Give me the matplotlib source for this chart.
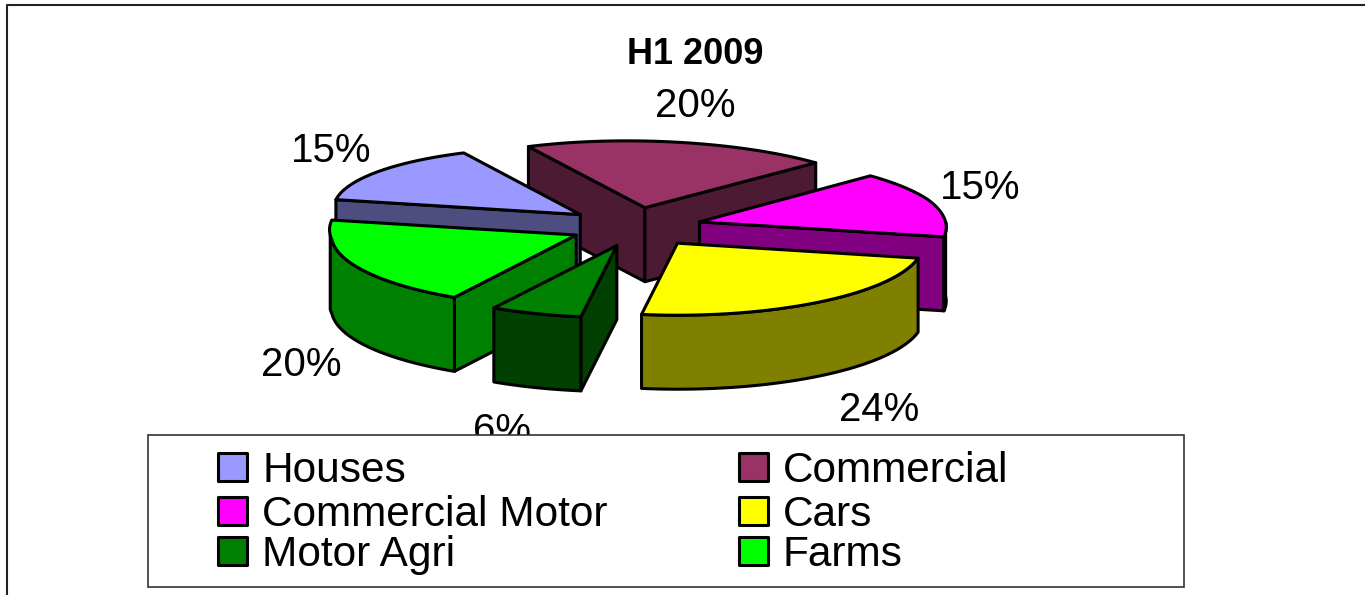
import numpy as np
import matplotlib
matplotlib.use('Agg')
import matplotlib.pyplot as plt
from matplotlib.patches import Polygon, Rectangle

plt.rcParams['font.family'] = ['Liberation Sans', 'DejaVu Sans']

# data, in the order the pie goes round (clockwise)
categories = ['Houses', 'Commercial', 'Commercial Motor', 'Cars', 'Motor Agri', 'Farms']
shares = [15, 20, 15, 24, 6, 20]
colors = ['#9999FF', '#993366', '#FF00FF', '#FFFF00', '#008000', '#00FF00']
title = 'H1 2009'

# pie geometry, in pixels
cx, cy = 639, 227
rx, ry = 246, 72
depth = 74
explode = 0.274
start = 168  # degrees, Houses starts here and the pie runs clockwise
lw = 2.2
skew = 0.25  # the far part of the pie leans left in the original
squeeze = 0.08  # and is a bit flatter

# label centres, same order as categories
label_xy = [(331, 151), (695, 106), (980, 188), (879, 410), (502, 431), (301, 365)]

# legend rows and columns
legend_rows = [467, 511, 551]
legend_cols = [218, 739]
legend_order = [[0, 1], [2, 3], [4, 5]]


def darker(color):
    r, g, b = matplotlib.colors.to_rgb(color)
    return (r / 2, g / 2, b / 2)


def view(x, y):
    x = x + skew * np.minimum(y - 240, 0)
    y = y + squeeze * np.maximum(200 - y, 0)
    return x, y


fig = plt.figure(figsize=(13.65, 5.95), dpi=100)
ax = fig.add_axes([0, 0, 1, 1])
ax.set_xlim(0, 1365)
ax.set_ylim(595, 0)
ax.axis('off')

# outer frame, only left and top show in the picture
ax.plot([7, 7, 1365], [595, 5, 5], color='#222222', lw=1.5, zorder=1)

# work out the angles from the shares
fracs = np.array(shares) / sum(shares)
ends = start - np.cumsum(fracs) * 360
starts = ends + fracs * 360

# back slices first so the front ones cover them
draw_order = [1, 2, 0, 3, 5, 4]
z = 2
for i in draw_order:
    a0, a1 = starts[i], ends[i]
    mid = (a0 + a1) / 2
    ox = cx + explode * rx * np.cos(np.radians(mid))
    oy = cy - explode * ry * np.sin(np.radians(mid))
    angs = np.linspace(a0, a1, 60)
    xs, ys = view(ox + rx * np.cos(np.radians(angs)), oy - ry * np.sin(np.radians(angs)))
    ox, oy = view(ox, oy)
    side = darker(colors[i])
    style = dict(edgecolor='black', lw=lw, joinstyle='round', zorder=z)

    # cut faces, only the ones turned to the viewer
    if np.cos(np.radians(a0)) < 0:
        face = [(ox, oy), (xs[0], ys[0]), (xs[0], ys[0] + depth), (ox, oy + depth)]
        ax.add_patch(Polygon(face, closed=True, facecolor=side, **style))
    if np.cos(np.radians(a1)) > 0:
        face = [(ox, oy), (xs[-1], ys[-1]), (xs[-1], ys[-1] + depth), (ox, oy + depth)]
        ax.add_patch(Polygon(face, closed=True, facecolor=side, **style))

    # outer wall, same idea
    front = np.sin(np.radians(angs)) < 0
    if front.any():
        fx, fy = xs[front], ys[front]
        wall = list(zip(fx, fy)) + list(zip(fx[::-1], fy[::-1] + depth))
        ax.add_patch(Polygon(wall, closed=True, facecolor=side, **style))

    top = [(ox, oy)] + list(zip(xs, ys))
    ax.add_patch(Polygon(top, closed=True, facecolor=colors[i], **style))
    z += 1

# value labels
for i, (lx, ly) in enumerate(label_xy):
    ax.text(lx, ly, f'{shares[i]}%', fontsize=29, ha='center', va='center',
            color='black', zorder=10)

ax.text(695, 55, title, fontsize=26, fontweight='bold', ha='center', va='center', zorder=10)

# legend box, on top of the 6% label like in the original
ax.add_patch(Rectangle((148, 435), 1036, 152, facecolor='white', edgecolor='#333333',
                       lw=1.2, zorder=11))
for r, row in enumerate(legend_order):
    for c, idx in enumerate(row):
        ax.add_patch(Rectangle((legend_cols[c], legend_rows[r] - 14), 29, 28,
                               facecolor=colors[idx], edgecolor='black', lw=2.2,
                               joinstyle='round', zorder=12))
        ax.text(legend_cols[c] + 44, legend_rows[r] + 4, categories[idx], fontsize=30.5,
                ha='left', va='center', zorder=12)

fig.savefig('out.png', dpi=100)
